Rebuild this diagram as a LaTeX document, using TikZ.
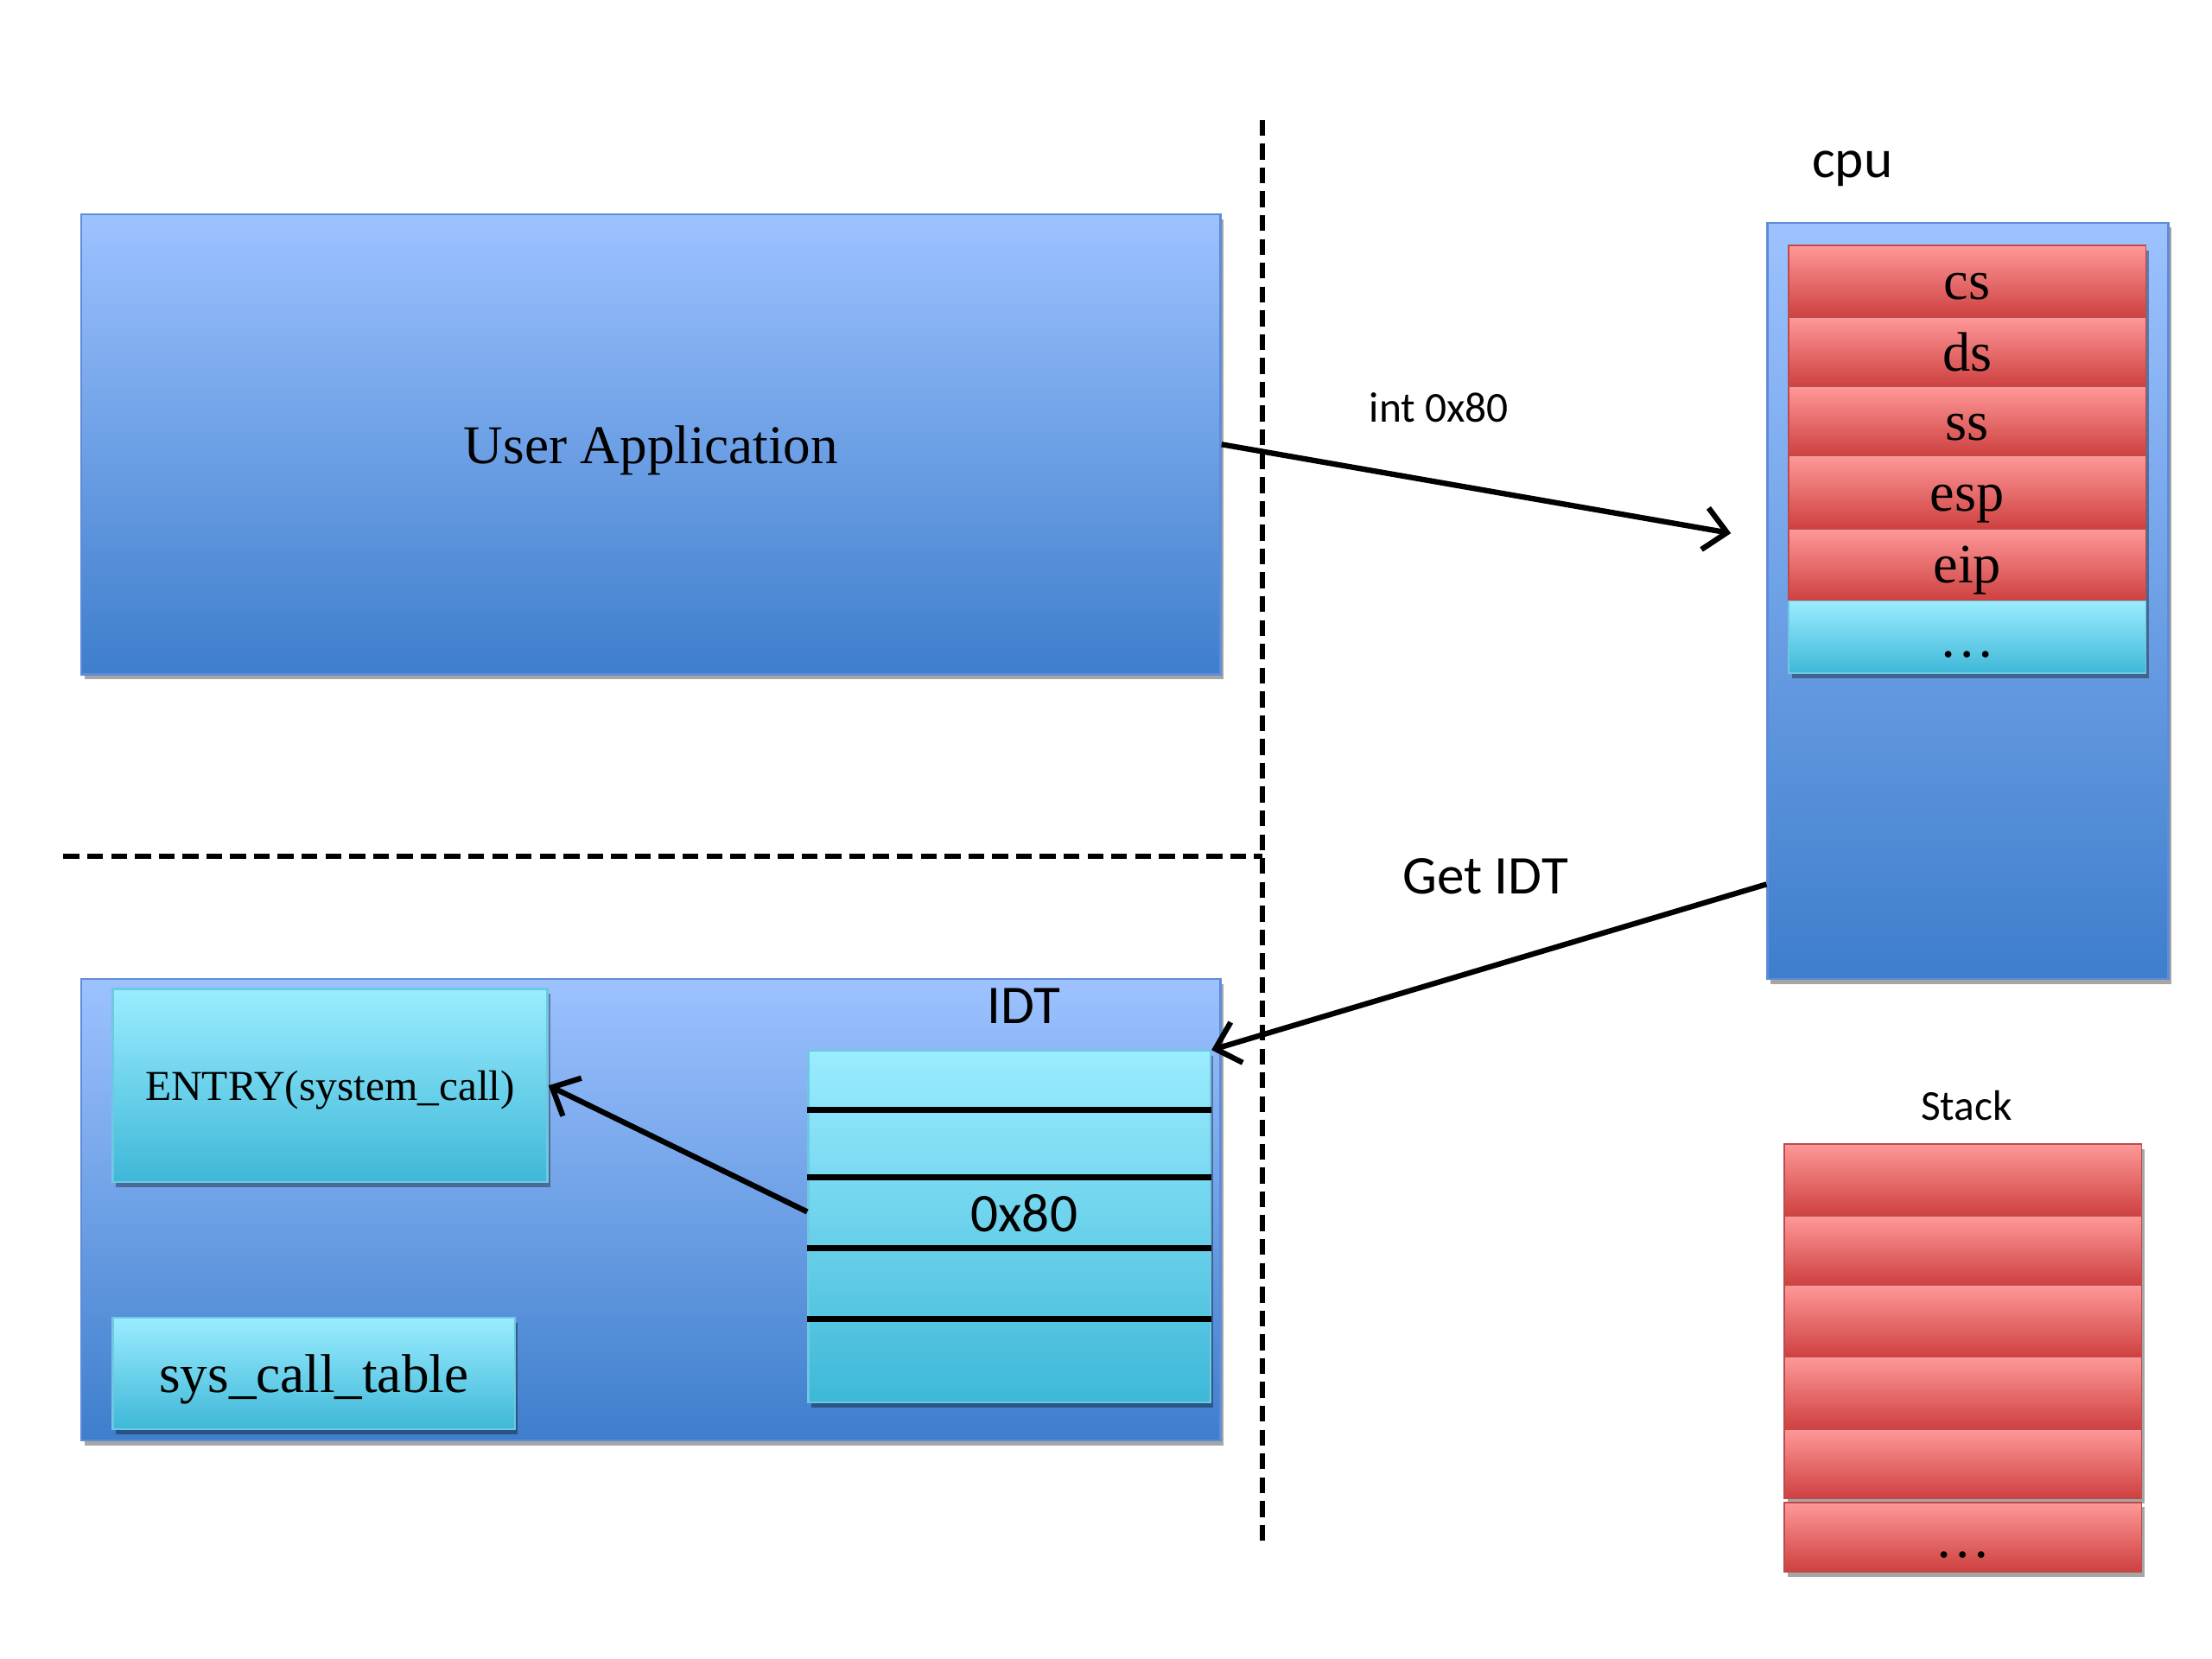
\documentclass[tikz,border=0pt]{standalone}
\usepackage{fontspec}
\setmainfont{Liberation Serif}
\newfontfamily\calib{Carlito}
\usetikzlibrary{arrows.meta,shadows}
\definecolor{bluetop}{RGB}{157,194,255}
\definecolor{bluemid}{RGB}{118,162,230}
\definecolor{bluebot}{RGB}{62,126,204}
\definecolor{blueedge}{RGB}{95,140,215}
\definecolor{cyantop}{RGB}{155,236,255}
\definecolor{cyanbot}{RGB}{62,184,216}
\definecolor{cyanedge}{RGB}{110,200,225}
\definecolor{redtop}{RGB}{255,152,152}
\definecolor{redbot}{RGB}{206,64,64}
\definecolor{rededge}{RGB}{190,75,75}
\begin{document}
\begin{tikzpicture}[x=0.01cm,y=-0.01cm,
  shad/.style={drop shadow={shadow xshift=0.6pt,shadow yshift=-1pt,opacity=0.35,fill=black}},
  bluebox/.style={shad,draw=blueedge,line width=0.4pt,top color=bluetop,middle color=bluemid,bottom color=bluebot,inner sep=0pt},
  cyanbox/.style={shad,draw=cyanedge,line width=0.4pt,top color=cyantop,bottom color=cyanbot,inner sep=0pt},
  redrow/.style={shad,draw=rededge,line width=0.3pt,top color=redtop,bottom color=redbot,inner sep=0pt,minimum width=2.53cm},
  cyanrow/.style={shad,draw=cyanedge,line width=0.3pt,top color=cyantop,bottom color=cyanbot,inner sep=0pt,minimum width=2.53cm},
  rowslot/.style={draw=none,inner sep=0pt,minimum width=2.85cm},
  serifbig/.style={font=\fontsize{11}{13}\selectfont},
  serifsmall/.style={font=\fontsize{8.6}{10}\selectfont},
  sansbig/.style={font=\calib\fontsize{11}{13}\selectfont},
  sanssmall/.style={font=\calib\fontsize{8.6}{10}\selectfont},
  regtext/.style={font=\fontsize{11.2}{13}\selectfont,inner sep=0pt},
  arr/.style={line width=1.1pt,-{Straight Barb[length=4.5pt,width=8.5pt]}},
  sepline/.style={line width=1.2pt},
  divider/.style={line width=1.1pt,dash pattern=on 3.2pt off 1.6pt},
]
\useasboundingbox (0,0) rectangle (1568,1176);

% user space
\node[bluebox,serifbig,text depth=0pt,minimum width=8.07cm,minimum height=3.26cm] (ua) at (461.5,315) {User Application};

% kernel space
\node[bluebox,minimum width=8.07cm,minimum height=3.27cm] (kern) at (461.5,857.5) {};
\node[cyanbox,serifsmall,text depth=0pt,minimum width=3.08cm,minimum height=1.37cm] (entry) at (234,769.5) {ENTRY(system\_call)};
\node[cyanbox,serifbig,text depth=0pt,minimum width=2.85cm,minimum height=0.79cm] (sct) at (222.5,973.5) {sys\_call\_table};
\node[sansbig] (idtlabel) at (726,713) {IDT};
\node[cyanbox,minimum width=2.85cm,minimum height=2.49cm] (idt) at (715.5,869.5) {};
\node[rowslot,minimum height=0.41cm] (r1) at (715.5,765.5) {};
\node[rowslot,minimum height=0.48cm] (r2) at (715.5,810) {};
\node[rowslot,minimum height=0.50cm] (r3) at (715.5,859) {};
\node[rowslot,minimum height=0.50cm] (r4) at (715.5,909) {};
\node[rowslot,minimum height=0.60cm] (r5) at (715.5,964) {};
\node[sansbig] (r3text) at (726,860) {0x80};
\draw[sepline] (r1.south west) -- (r1.south east);
\draw[sepline] (r2.south west) -- (r2.south east);
\draw[sepline] (r3.south west) -- (r3.south east);
\draw[sepline] (r4.south west) -- (r4.south east);

% cpu
\node[sansbig,anchor=base] (cpulabel) at (1313,126) {cpu};
\node[bluebox,minimum width=2.84cm,minimum height=5.36cm] (cpu) at (1395,426) {};
\node[redrow,minimum height=0.51cm] (cs) at (1394.5,199.5) {};
\node[redrow,minimum height=0.49cm] (ds) at (1394.5,249.5) {};
\node[redrow,minimum height=0.49cm] (ss) at (1394.5,298.5) {};
\node[redrow,minimum height=0.52cm] (esp) at (1394.5,349) {};
\node[redrow,minimum height=0.51cm] (eip) at (1394.5,400.5) {};
\node[cyanrow,minimum height=0.51cm] (more) at (1394.5,451.5) {};
\node[regtext,anchor=base] (cstext) at (1394.5,212) {cs};
\node[regtext,anchor=base] (dstext) at (1394.5,263) {ds};
\node[regtext,anchor=base] (sstext) at (1394.5,312) {ss};
\node[regtext,anchor=base] (esptext) at (1394.5,362) {esp};
\node[regtext,anchor=base] (eiptext) at (1394.5,413) {eip};
\node[regtext,anchor=base] (moretext) at (1394.5,466) {…};

% stack
\node[sanssmall] (stacklabel) at (1394,784) {Stack};
\node[redrow,minimum height=0.51cm] (s1) at (1391.5,836.5) {};
\node[redrow,minimum height=0.49cm] (s2) at (1391.5,886.5) {};
\node[redrow,minimum height=0.51cm] (s3) at (1391.5,936.5) {};
\node[redrow,minimum height=0.51cm] (s4) at (1391.5,987.5) {};
\node[redrow,minimum height=0.49cm] (s5) at (1391.5,1037.5) {};
\node[redrow,minimum height=0.49cm] (s6) at (1391.5,1089.5) {};
\node[regtext,anchor=base] (stackdots) at (1391.5,1104) {…};

% dividers
\coordinate (vtop) at (895,85);
\coordinate (vbot) at (895,1095);
\coordinate (hleft) at (45,607);
\coordinate (hright) at (895,607);
\draw[divider] (vtop) -- (vbot);
\draw[divider] (hleft) -- (hright);

% connectors
\coordinate (intend) at (1227,378);
\draw[arr] (ua.east) -- (intend);
\node[sanssmall] (intlabel) at (1020,289) {int 0x80};
\draw[arr] ([yshift=0.68cm]cpu.south west) -- (r1.north east);
\node[sansbig] (getidt) at (1053,621) {Get IDT};
\draw[arr] (r3.west) -- (entry.east);
\end{tikzpicture}
\end{document}
